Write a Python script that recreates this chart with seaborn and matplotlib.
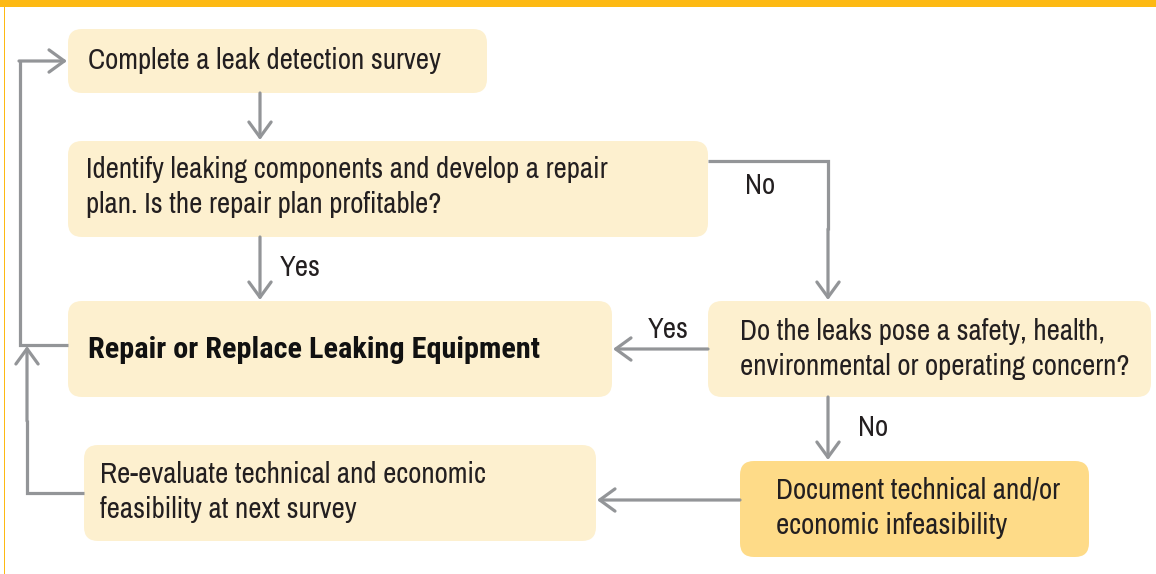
import matplotlib
matplotlib.use('Agg')
import matplotlib.pyplot as plt
import seaborn as sns
from matplotlib.patches import FancyBboxPatch, Rectangle

sns.set_theme(style='white')
plt.rcParams['font.family'] = ['Archivo Narrow', 'DejaVu Sans']

# flowchart content
step_texts = [
    'Complete a leak detection survey',
    'Identify leaking components and develop a repair\nplan. Is the repair plan profitable?',
    'Repair or Replace Leaking Equipment',
    'Do the leaks pose a safety, health,\nenvironmental or operating concern?',
    'Re-evaluate technical and economic\nfeasibility at next survey',
    'Document technical and/or\neconomic infeasibility',
]
step_bold = [False, False, True, False, False, False]
step_fill = ['#fdf0cf', '#fdf0cf', '#fdf0cf', '#fdf0cf', '#fdf0cf', '#fedb88']
branch_labels = ['Yes', 'No', 'Yes', 'No']

# layout (pixel space): x0, y0, x1, y1, text x, text y
boxes = [
    (68, 29, 487, 93, 88, 60),
    (68, 141, 708, 237, 86, 187),
    (68, 301, 612, 397, 88, 350),
    (708, 301, 1151, 397, 740, 349),
    (84, 445, 596, 541, 100, 492),
    (740, 461, 1089, 557, 776, 508),
]
label_pos = [(280, 267), (745, 186), (648, 330), (858, 427)]

gray = '#939598'
lw = 2.3
fs = 20.8

fig = plt.figure(figsize=(11.56, 5.74), dpi=100)
ax = fig.add_axes([0, 0, 1, 1])
ax.set_xlim(0, 1156)
ax.set_ylim(574, 0)
ax.axis('off')

# frame: top band and thin left rule
ax.add_patch(Rectangle((0, 0), 1156, 7, color='#fdb913', lw=0))
ax.add_patch(Rectangle((4, 0), 1.3, 574, color='#fdb913', lw=0))

for (x0, y0, x1, y1, tx, ty), txt, bold, fc in zip(boxes, step_texts, step_bold, step_fill):
    ax.add_patch(FancyBboxPatch((x0, y0), x1 - x0, y1 - y0,
                                boxstyle='round,pad=0,rounding_size=14',
                                fc=fc, ec='none'))
    if bold:
        ax.text(tx, ty, txt, ha='left', va='center', fontsize=21.8,
                family=['Roboto Condensed', 'DejaVu Sans'], fontweight='bold',
                color='#111111')
    else:
        ax.text(tx, ty, txt, ha='left', va='center', fontsize=fs,
                color='#231f20', linespacing=1.4)

for (lx, ly), lab in zip(label_pos, branch_labels):
    ax.text(lx, ly, lab, ha='left', va='center', fontsize=fs, color='#231f20')


def line(xs, ys):
    ax.plot(xs, ys, color=gray, lw=lw, solid_capstyle='butt', solid_joinstyle='miter')


def arrow(start, end):
    ax.annotate('', xy=end, xytext=start,
                arrowprops=dict(arrowstyle='->,head_length=0.55,head_width=0.4',
                                color=gray, lw=lw, mutation_scale=20,
                                shrinkA=0, shrinkB=0))


# survey -> identify
arrow((260, 93), (260, 140))
# identify -> repair (yes)
arrow((260, 237), (260, 300))
# identify -> concern (no)
line([708, 828, 828], [161, 161, 230])
arrow((828, 229), (828, 300))
# concern -> repair (yes)
arrow((708, 349), (613, 349))
# concern -> document (no)
arrow((828, 397), (828, 460))
# document -> re-evaluate
arrow((740, 500), (597, 500))
# re-evaluate loop back up
line([84, 27, 27], [493, 493, 420])
arrow((27, 421), (27, 346))
# repair loop back to survey
line([68, 20, 20], [345, 345, 61])
arrow((19, 61), (67, 61))

fig.savefig('out.png', dpi=100)
